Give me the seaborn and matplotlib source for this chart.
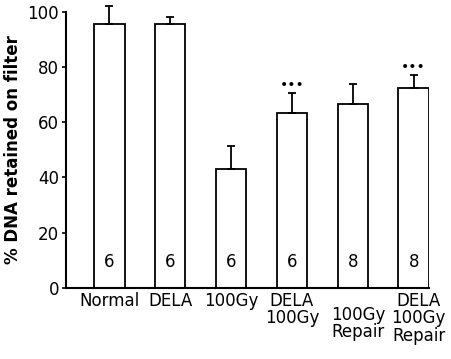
import numpy as np
import pandas as pd
import seaborn as sns
import matplotlib.pyplot as plt
from matplotlib.transforms import ScaledTranslation

# values
groups = ["Normal", "DELA", "100Gy", "DELA\n100Gy", "100Gy\nRepair", "DELA\n100Gy\nRepair"]
means = [95.5, 95.5, 43, 63.5, 66.5, 72.5]
sem = [6.5, 2.5, 8.5, 7, 7.5, 4.5]
n_counts = ["6", "6", "6", "6", "8", "8"]
signif = ["", "", "", "•••", "", "•••"]

df = pd.DataFrame({"group": groups, "mean": means})

sns.set_style("ticks")
plt.rcParams["font.family"] = ["DejaVu Sans"]
for k in ["text.color", "axes.labelcolor", "xtick.color", "ytick.color", "axes.edgecolor"]:
    plt.rcParams[k] = "black"

fig = plt.figure(figsize=(4.51, 3.59), dpi=100)
ax = fig.add_axes([0.146, 0.198, 0.805, 0.769])

sns.barplot(data=df, x="group", y="mean", color="white", edgecolor="black",
            linewidth=1.3, width=0.5, ax=ax)

x = np.arange(len(groups))
eb = ax.errorbar(x, means, yerr=[np.zeros(len(sem)), sem], fmt="none",
                 ecolor="black", elinewidth=1.3, capsize=3, capthick=1.3)
for art in eb.lines[1] + eb.lines[2]:
    art.set_clip_on(False)
for art in eb.lines[2]:
    art.set_clip_on(False)

for xi, n in zip(x, n_counts):
    ax.text(xi, 9.5, n, ha="center", va="center", fontsize=12)
for xi, m, e, s in zip(x, means, sem, signif):
    if s:
        ax.text(xi, m + e + 3, s, ha="center", va="center", fontsize=10)

ax.set_ylim(0, 100)
ax.set_xlim(-0.715, 5.25)
ax.set_yticks([0, 20, 40, 60, 80, 100])
ax.tick_params(axis="y", labelsize=12, length=3, width=1.2, pad=2)
ax.tick_params(axis="x", labelsize=12, length=0, pad=3)
ax.set_xticklabels(groups, linespacing=0.95)
lbl = ax.get_xticklabels()[4]
lbl.set_transform(lbl.get_transform() + ScaledTranslation(0.05, -10 / 72, fig.dpi_scale_trans))
lbl = ax.get_xticklabels()[5]
lbl.set_transform(lbl.get_transform() + ScaledTranslation(0.05, 0, fig.dpi_scale_trans))
ax.set_xlabel("")
ax.set_ylabel("% DNA retained on filter", fontsize=12, fontweight="bold", labelpad=4)
sns.despine(ax=ax)
for sp in ["left", "bottom"]:
    ax.spines[sp].set_linewidth(1.5)

fig.savefig("out.png", dpi=100)
